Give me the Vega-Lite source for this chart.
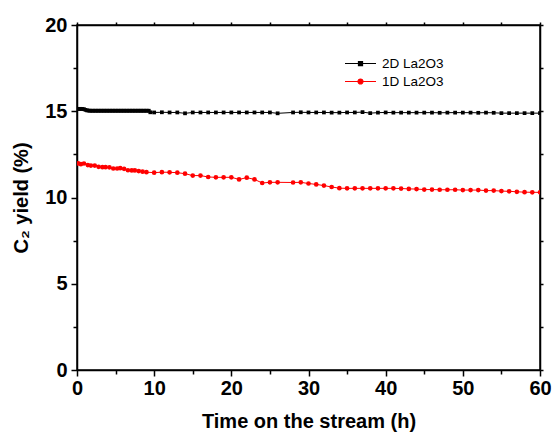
{
  "$schema": "https://vega.github.io/schema/vega-lite/v6.json",
  "autosize": {"type": "none"},
  "width": 463,
  "height": 345,
  "padding": {"left": 77, "top": 25, "right": 15, "bottom": 64},
  "background": "white",
  "config": {
    "view": {"stroke": "black", "strokeWidth": 1.5},
    "font": "Liberation Sans",
    "axis": {"grid": false, "domainColor": "black", "domainWidth": 1.5, "tickColor": "black", "tickWidth": 1.5, "labelColor": "black", "titleColor": "black"}
  },
  "data": {
    "values": [
      {"series": "2D La2O3", "t": 0.1, "y": 15.14},
      {"series": "2D La2O3", "t": 0.3, "y": 15.13},
      {"series": "2D La2O3", "t": 0.5, "y": 15.14},
      {"series": "2D La2O3", "t": 0.7, "y": 15.13},
      {"series": "2D La2O3", "t": 0.9, "y": 15.12},
      {"series": "2D La2O3", "t": 1.1, "y": 15.08},
      {"series": "2D La2O3", "t": 1.3, "y": 15.05},
      {"series": "2D La2O3", "t": 1.5, "y": 15.04},
      {"series": "2D La2O3", "t": 1.7, "y": 15.03},
      {"series": "2D La2O3", "t": 1.9, "y": 15.03},
      {"series": "2D La2O3", "t": 2.1, "y": 15.03},
      {"series": "2D La2O3", "t": 2.3, "y": 15.03},
      {"series": "2D La2O3", "t": 2.5, "y": 15.03},
      {"series": "2D La2O3", "t": 2.7, "y": 15.03},
      {"series": "2D La2O3", "t": 2.9, "y": 15.03},
      {"series": "2D La2O3", "t": 3.1, "y": 15.03},
      {"series": "2D La2O3", "t": 3.3, "y": 15.03},
      {"series": "2D La2O3", "t": 3.5, "y": 15.03},
      {"series": "2D La2O3", "t": 3.7, "y": 15.03},
      {"series": "2D La2O3", "t": 3.9, "y": 15.03},
      {"series": "2D La2O3", "t": 4.1, "y": 15.03},
      {"series": "2D La2O3", "t": 4.3, "y": 15.03},
      {"series": "2D La2O3", "t": 4.5, "y": 15.03},
      {"series": "2D La2O3", "t": 4.7, "y": 15.03},
      {"series": "2D La2O3", "t": 4.9, "y": 15.03},
      {"series": "2D La2O3", "t": 5.1, "y": 15.03},
      {"series": "2D La2O3", "t": 5.3, "y": 15.03},
      {"series": "2D La2O3", "t": 5.5, "y": 15.03},
      {"series": "2D La2O3", "t": 5.7, "y": 15.03},
      {"series": "2D La2O3", "t": 5.9, "y": 15.03},
      {"series": "2D La2O3", "t": 6.1, "y": 15.03},
      {"series": "2D La2O3", "t": 6.3, "y": 15.03},
      {"series": "2D La2O3", "t": 6.5, "y": 15.03},
      {"series": "2D La2O3", "t": 6.7, "y": 15.03},
      {"series": "2D La2O3", "t": 6.9, "y": 15.03},
      {"series": "2D La2O3", "t": 7.1, "y": 15.03},
      {"series": "2D La2O3", "t": 7.3, "y": 15.03},
      {"series": "2D La2O3", "t": 7.5, "y": 15.03},
      {"series": "2D La2O3", "t": 7.7, "y": 15.03},
      {"series": "2D La2O3", "t": 7.9, "y": 15.03},
      {"series": "2D La2O3", "t": 8.1, "y": 15.03},
      {"series": "2D La2O3", "t": 8.3, "y": 15.03},
      {"series": "2D La2O3", "t": 8.5, "y": 15.03},
      {"series": "2D La2O3", "t": 8.7, "y": 15.03},
      {"series": "2D La2O3", "t": 8.9, "y": 15.03},
      {"series": "2D La2O3", "t": 9.1, "y": 15.03},
      {"series": "2D La2O3", "t": 9.3, "y": 15.03},
      {"series": "2D La2O3", "t": 9.5, "y": 14.94},
      {"series": "2D La2O3", "t": 10, "y": 14.93},
      {"series": "2D La2O3", "t": 11, "y": 14.94},
      {"series": "2D La2O3", "t": 12, "y": 14.93},
      {"series": "2D La2O3", "t": 13, "y": 14.93},
      {"series": "2D La2O3", "t": 14, "y": 14.88},
      {"series": "2D La2O3", "t": 15, "y": 14.93},
      {"series": "2D La2O3", "t": 16, "y": 14.93},
      {"series": "2D La2O3", "t": 17, "y": 14.93},
      {"series": "2D La2O3", "t": 18, "y": 14.93},
      {"series": "2D La2O3", "t": 19, "y": 14.93},
      {"series": "2D La2O3", "t": 20, "y": 14.93},
      {"series": "2D La2O3", "t": 21, "y": 14.93},
      {"series": "2D La2O3", "t": 22, "y": 14.93},
      {"series": "2D La2O3", "t": 23, "y": 14.93},
      {"series": "2D La2O3", "t": 24, "y": 14.93},
      {"series": "2D La2O3", "t": 25, "y": 14.93},
      {"series": "2D La2O3", "t": 26, "y": 14.88},
      {"series": "2D La2O3", "t": 28, "y": 14.93},
      {"series": "2D La2O3", "t": 29, "y": 14.94},
      {"series": "2D La2O3", "t": 30, "y": 14.93},
      {"series": "2D La2O3", "t": 31, "y": 14.93},
      {"series": "2D La2O3", "t": 32, "y": 14.93},
      {"series": "2D La2O3", "t": 33, "y": 14.92},
      {"series": "2D La2O3", "t": 34, "y": 14.92},
      {"series": "2D La2O3", "t": 35, "y": 14.93},
      {"series": "2D La2O3", "t": 36, "y": 14.93},
      {"series": "2D La2O3", "t": 37, "y": 14.95},
      {"series": "2D La2O3", "t": 38, "y": 14.89},
      {"series": "2D La2O3", "t": 39, "y": 14.92},
      {"series": "2D La2O3", "t": 40, "y": 14.93},
      {"series": "2D La2O3", "t": 41, "y": 14.92},
      {"series": "2D La2O3", "t": 42, "y": 14.92},
      {"series": "2D La2O3", "t": 43, "y": 14.92},
      {"series": "2D La2O3", "t": 44, "y": 14.92},
      {"series": "2D La2O3", "t": 45, "y": 14.92},
      {"series": "2D La2O3", "t": 46, "y": 14.92},
      {"series": "2D La2O3", "t": 47, "y": 14.91},
      {"series": "2D La2O3", "t": 48, "y": 14.92},
      {"series": "2D La2O3", "t": 49, "y": 14.92},
      {"series": "2D La2O3", "t": 50, "y": 14.92},
      {"series": "2D La2O3", "t": 51, "y": 14.92},
      {"series": "2D La2O3", "t": 52, "y": 14.91},
      {"series": "2D La2O3", "t": 53, "y": 14.92},
      {"series": "2D La2O3", "t": 54, "y": 14.91},
      {"series": "2D La2O3", "t": 55, "y": 14.89},
      {"series": "2D La2O3", "t": 56, "y": 14.89},
      {"series": "2D La2O3", "t": 57, "y": 14.89},
      {"series": "2D La2O3", "t": 58, "y": 14.89},
      {"series": "2D La2O3", "t": 59, "y": 14.89},
      {"series": "2D La2O3", "t": 60, "y": 14.89},
      {"series": "1D La2O3", "t": 0.15, "y": 11.98},
      {"series": "1D La2O3", "t": 0.5, "y": 11.93},
      {"series": "1D La2O3", "t": 0.9, "y": 11.97},
      {"series": "1D La2O3", "t": 1.4, "y": 11.88},
      {"series": "1D La2O3", "t": 1.8, "y": 11.85},
      {"series": "1D La2O3", "t": 2.3, "y": 11.85},
      {"series": "1D La2O3", "t": 2.8, "y": 11.78},
      {"series": "1D La2O3", "t": 3.3, "y": 11.76},
      {"series": "1D La2O3", "t": 3.7, "y": 11.76},
      {"series": "1D La2O3", "t": 4.2, "y": 11.75},
      {"series": "1D La2O3", "t": 4.7, "y": 11.68},
      {"series": "1D La2O3", "t": 5.2, "y": 11.68},
      {"series": "1D La2O3", "t": 5.6, "y": 11.7},
      {"series": "1D La2O3", "t": 6.1, "y": 11.66},
      {"series": "1D La2O3", "t": 6.6, "y": 11.58},
      {"series": "1D La2O3", "t": 7.1, "y": 11.57},
      {"series": "1D La2O3", "t": 7.5, "y": 11.57},
      {"series": "1D La2O3", "t": 8.0, "y": 11.53},
      {"series": "1D La2O3", "t": 8.5, "y": 11.5},
      {"series": "1D La2O3", "t": 9.0, "y": 11.47},
      {"series": "1D La2O3", "t": 10, "y": 11.44},
      {"series": "1D La2O3", "t": 11, "y": 11.47},
      {"series": "1D La2O3", "t": 12, "y": 11.46},
      {"series": "1D La2O3", "t": 13, "y": 11.44},
      {"series": "1D La2O3", "t": 14, "y": 11.38},
      {"series": "1D La2O3", "t": 15, "y": 11.27},
      {"series": "1D La2O3", "t": 16, "y": 11.27},
      {"series": "1D La2O3", "t": 17, "y": 11.19},
      {"series": "1D La2O3", "t": 18, "y": 11.17},
      {"series": "1D La2O3", "t": 19, "y": 11.17},
      {"series": "1D La2O3", "t": 20, "y": 11.17},
      {"series": "1D La2O3", "t": 21, "y": 11.05},
      {"series": "1D La2O3", "t": 22, "y": 11.15},
      {"series": "1D La2O3", "t": 23, "y": 11.05},
      {"series": "1D La2O3", "t": 24, "y": 10.84},
      {"series": "1D La2O3", "t": 25, "y": 10.88},
      {"series": "1D La2O3", "t": 26, "y": 10.88},
      {"series": "1D La2O3", "t": 28, "y": 10.87},
      {"series": "1D La2O3", "t": 29, "y": 10.88},
      {"series": "1D La2O3", "t": 30, "y": 10.81},
      {"series": "1D La2O3", "t": 31, "y": 10.76},
      {"series": "1D La2O3", "t": 32, "y": 10.69},
      {"series": "1D La2O3", "t": 33, "y": 10.61},
      {"series": "1D La2O3", "t": 34, "y": 10.54},
      {"series": "1D La2O3", "t": 35, "y": 10.53},
      {"series": "1D La2O3", "t": 36, "y": 10.53},
      {"series": "1D La2O3", "t": 37, "y": 10.53},
      {"series": "1D La2O3", "t": 38, "y": 10.53},
      {"series": "1D La2O3", "t": 39, "y": 10.53},
      {"series": "1D La2O3", "t": 40, "y": 10.53},
      {"series": "1D La2O3", "t": 41, "y": 10.53},
      {"series": "1D La2O3", "t": 42, "y": 10.52},
      {"series": "1D La2O3", "t": 43, "y": 10.5},
      {"series": "1D La2O3", "t": 44, "y": 10.49},
      {"series": "1D La2O3", "t": 45, "y": 10.46},
      {"series": "1D La2O3", "t": 46, "y": 10.46},
      {"series": "1D La2O3", "t": 47, "y": 10.45},
      {"series": "1D La2O3", "t": 48, "y": 10.45},
      {"series": "1D La2O3", "t": 49, "y": 10.45},
      {"series": "1D La2O3", "t": 50, "y": 10.43},
      {"series": "1D La2O3", "t": 51, "y": 10.43},
      {"series": "1D La2O3", "t": 52, "y": 10.43},
      {"series": "1D La2O3", "t": 53, "y": 10.4},
      {"series": "1D La2O3", "t": 54, "y": 10.4},
      {"series": "1D La2O3", "t": 55, "y": 10.37},
      {"series": "1D La2O3", "t": 56, "y": 10.36},
      {"series": "1D La2O3", "t": 57, "y": 10.33},
      {"series": "1D La2O3", "t": 58, "y": 10.31},
      {"series": "1D La2O3", "t": 59, "y": 10.3},
      {"series": "1D La2O3", "t": 60, "y": 10.3}
    ]
  },
  "resolve": {"axis": {"x": "independent", "y": "independent"}},
  "layer": [
    {
      "mark": {"type": "line", "strokeWidth": 1, "clip": true},
      "encoding": {
        "x": {
          "field": "t", "type": "quantitative",
          "scale": {"domain": [0, 60], "nice": false, "zero": false},
          "axis": {
            "orient": "bottom",
            "values": [0, 5, 10, 15, 20, 25, 30, 35, 40, 45, 50, 55, 60],
            "labelExpr": "datum.value % 10 === 0 ? datum.label : ''",
            "labelFlush": false, "labelOverlap": false,
            "tickSize": {"condition": {"test": "datum.value % 10 === 0", "value": 6}, "value": 4},
            "labelFont": "Liberation Sans", "labelFontWeight": "bold", "labelFontSize": 20, "labelPadding": 2,
            "title": "Time on the stream (h)",
            "titleFont": "Liberation Sans", "titleFontWeight": "bold", "titleFontSize": 20, "titlePadding": 13
          }
        },
        "y": {
          "field": "y", "type": "quantitative",
          "scale": {"domain": [0, 20], "nice": false},
          "axis": {
            "orient": "left",
            "values": [0, 2.5, 5, 7.5, 10, 12.5, 15, 17.5, 20],
            "labelExpr": "datum.value % 5 === 0 ? datum.label : ''",
            "labelOverlap": false, "labelFlush": false,
            "tickSize": {"condition": {"test": "datum.value % 5 === 0", "value": 6}, "value": 4},
            "labelFont": "Liberation Sans", "labelFontWeight": "bold", "labelFontSize": 20, "labelPadding": 4,
            "title": "C₂ yield (%)",
            "titleFont": "Liberation Sans", "titleFontWeight": "bold", "titleFontSize": 20, "titlePadding": 13
          }
        },
        "color": {
          "field": "series", "type": "nominal",
          "scale": {"domain": ["2D La2O3", "1D La2O3"], "range": ["black", "#ff0000"]},
          "legend": {
            "title": null, "orient": "none", "legendX": 275, "legendY": 30,
            "symbolType": "M-2.07,0H2.07",
            "symbolSize": 225, "symbolStrokeWidth": 1.2,
            "labelFont": "Liberation Sans", "labelFontSize": 13.5, "labelColor": "black",
            "labelOffset": 13, "rowPadding": 3, "padding": 0, "labelLimit": 300,
            "encode": {
              "symbols": {
                "update": {
                  "shape": {"signal": "datum.value === '2D La2O3' ? 'M-2.07,0H2.07M-0.27,-0.27H0.27V0.27H-0.27Z' : 'M-2.07,0H2.07M0.33,0A0.33,0.33,0,1,1,-0.33,0A0.33,0.33,0,1,1,0.33,0Z'"},
                  "fill": {"signal": "datum.value === '2D La2O3' ? 'black' : '#ff0000'"},
                  "fillOpacity": {"value": 1}
                }
              }
            }
          }
        },
        "detail": {"field": "series"}
      }
    },
    {
      "transform": [{"filter": "datum.series === '2D La2O3'"}],
      "mark": {"type": "square", "filled": true, "opacity": 1, "clip": true, "size": 14, "color": "black"},
      "encoding": {
        "x": {"field": "t", "type": "quantitative", "axis": null},
        "y": {"field": "y", "type": "quantitative", "axis": null}
      }
    },
    {
      "transform": [{"filter": "datum.series === '1D La2O3'"}],
      "mark": {"type": "circle", "filled": true, "opacity": 1, "clip": true, "size": 22, "color": "#ff0000"},
      "encoding": {
        "x": {"field": "t", "type": "quantitative", "axis": null},
        "y": {"field": "y", "type": "quantitative", "axis": null}
      }
    },
    {
      "mark": {"type": "point", "opacity": 0},
      "encoding": {
        "x": {
          "field": "t", "type": "quantitative",
          "axis": {"orient": "top", "values": [0, 5, 10, 15, 20, 25, 30, 35, 40, 45, 50, 55, 60], "labels": false, "tickSize": 3, "title": null}
        },
        "y": {
          "field": "y", "type": "quantitative",
          "axis": {"orient": "right", "values": [0, 2.5, 5, 7.5, 10, 12.5, 15, 17.5, 20], "labels": false, "tickSize": 3, "title": null}
        }
      }
    }
  ]
}
